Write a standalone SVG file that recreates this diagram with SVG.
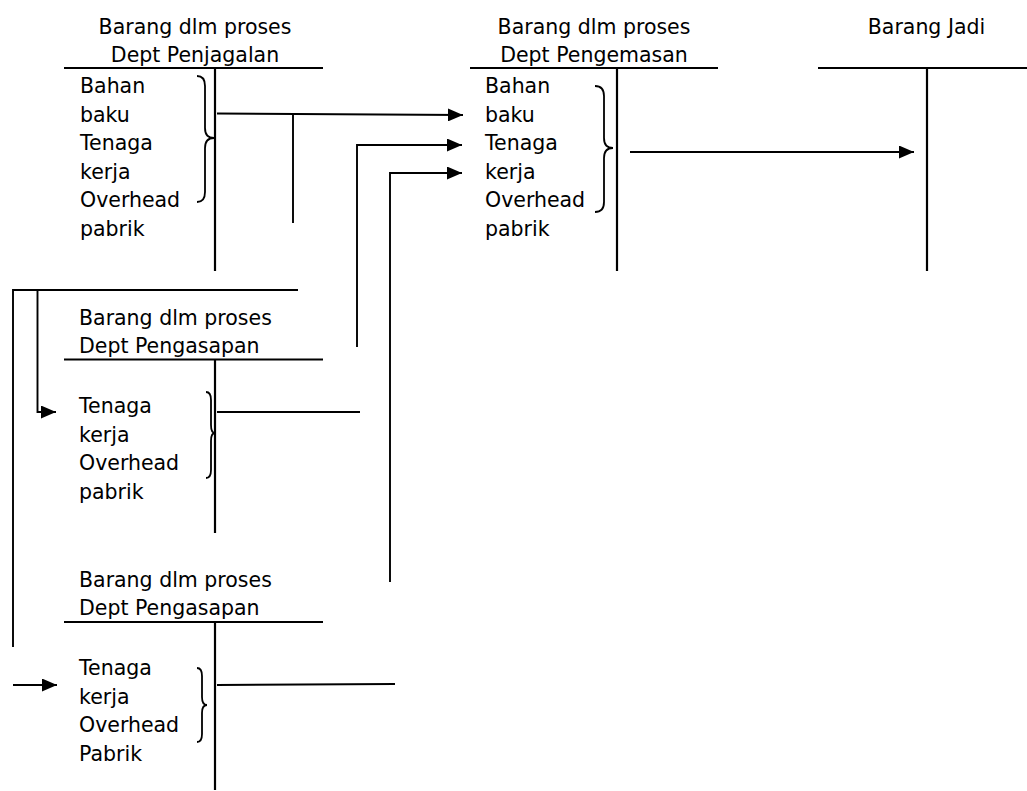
<svg xmlns="http://www.w3.org/2000/svg" width="1027" height="791" viewBox="0 0 1027 791">
  <style>
    .t { font-family: "DejaVu Sans", Verdana, sans-serif; font-size: 20.5px; fill: #000; }
    .mid { text-anchor: middle; }
    .rule { stroke: #000; stroke-width: 2.2; fill: none; }
    .brace { stroke: #000; stroke-width: 1.8; fill: none; }
    .wire { stroke: #000; stroke-width: 1.9; fill: none; }
  </style>
  <defs>
    <marker id="head" markerUnits="userSpaceOnUse" markerWidth="15" markerHeight="13" refX="15" refY="6.5" orient="auto">
      <path d="M0,0 L15,6.5 L0,13 z" fill="#000"/>
    </marker>
  </defs>
  <rect width="1027" height="791" fill="#fff"/>

  <!-- T-account: work in process, slaughtering department -->
  <g id="acct-penjagalan">
    <text class="t mid" x="195" y="33.5">Barang dlm proses</text>
    <text class="t mid" x="195" y="61.5">Dept Penjagalan</text>
    <line class="rule" x1="64" y1="68" x2="323" y2="68"/>
    <line class="rule" x1="215" y1="68" x2="215" y2="271"/>
    <text class="t" x="80" y="93">Bahan</text>
    <text class="t" x="80" y="121.5">baku</text>
    <text class="t" x="80" y="150">Tenaga</text>
    <text class="t" x="80" y="178.5">kerja</text>
    <text class="t" x="80" y="207">Overhead</text>
    <text class="t" x="80" y="235.5">pabrik</text>
    <path class="brace" d="M197,76 Q205,76 205,86 L205,128 Q205,138 214,138 Q205,138 205,148 L205,192 Q205,202 197,202"/>
  </g>

  <!-- T-account: work in process, packaging department -->
  <g id="acct-pengemasan">
    <text class="t mid" x="594" y="33.5">Barang dlm proses</text>
    <text class="t mid" x="594" y="61.5">Dept Pengemasan</text>
    <line class="rule" x1="470" y1="68" x2="718" y2="68"/>
    <line class="rule" x1="617" y1="68" x2="617" y2="271"/>
    <text class="t" x="485" y="93">Bahan</text>
    <text class="t" x="485" y="121.5">baku</text>
    <text class="t" x="485" y="150">Tenaga</text>
    <text class="t" x="485" y="178.5">kerja</text>
    <text class="t" x="485" y="207">Overhead</text>
    <text class="t" x="485" y="235.5">pabrik</text>
    <path class="brace" d="M595,86 Q604,86 604,96 L604,138 Q604,148 613,148 Q604,148 604,158 L604,202 Q604,212 595,212"/>
  </g>

  <!-- T-account: finished goods -->
  <g id="acct-barang-jadi">
    <text class="t mid" x="926.5" y="33.5">Barang Jadi</text>
    <line class="rule" x1="818" y1="68" x2="1027" y2="68"/>
    <line class="rule" x1="927" y1="68" x2="927" y2="271"/>
  </g>

  <!-- T-account: work in process, smoking department (first) -->
  <g id="acct-pengasapan-1">
    <text class="t" x="79" y="325">Barang dlm proses</text>
    <text class="t" x="79" y="353">Dept Pengasapan</text>
    <line class="rule" x1="64" y1="359.5" x2="323" y2="359.5"/>
    <line class="rule" x1="215" y1="359.5" x2="215" y2="533"/>
    <text class="t" x="79" y="413">Tenaga</text>
    <text class="t" x="79" y="441.5">kerja</text>
    <text class="t" x="79" y="470">Overhead</text>
    <text class="t" x="79" y="498.5">pabrik</text>
    <path class="brace" d="M206,392 Q211,392 211,400 L211,425 Q211,433 215,433 Q211,433 211,441 L211,470 Q211,478 206,478"/>
  </g>

  <!-- T-account: work in process, smoking department (second) -->
  <g id="acct-pengasapan-2">
    <text class="t" x="79" y="587">Barang dlm proses</text>
    <text class="t" x="79" y="615">Dept Pengasapan</text>
    <line class="rule" x1="64" y1="622" x2="323" y2="622"/>
    <line class="rule" x1="215" y1="622" x2="215" y2="790"/>
    <text class="t" x="79" y="675">Tenaga</text>
    <text class="t" x="79" y="703.5">kerja</text>
    <text class="t" x="79" y="732">Overhead</text>
    <text class="t" x="79" y="760.5">Pabrik</text>
    <path class="brace" d="M197,668 Q202,668 202,676 L202,697 Q202,705 207,705 Q202,705 202,713 L202,734 Q202,742 197,742"/>
  </g>

  <!-- cost flows between accounts -->
  <g id="connectors">
    <line class="wire" x1="217" y1="113.5" x2="463" y2="115" marker-end="url(#head)"/>
    <line class="wire" x1="293" y1="114" x2="293" y2="223"/>
    <polyline class="wire" points="357,347 357,145 462,145" marker-end="url(#head)"/>
    <polyline class="wire" points="390,582 390,173 462,173" marker-end="url(#head)"/>
    <line class="wire" x1="630" y1="152" x2="914" y2="152" marker-end="url(#head)"/>
    <line class="wire" x1="217" y1="412" x2="360" y2="412"/>
    <line class="wire" x1="217" y1="685" x2="395" y2="684"/>
    <polyline class="wire" points="298,290 13,290 13,647"/>
    <polyline class="wire" points="37.5,290 37.5,412 56,412" marker-end="url(#head)"/>
    <line class="wire" x1="13" y1="685" x2="57" y2="685" marker-end="url(#head)"/>
  </g>
</svg>
